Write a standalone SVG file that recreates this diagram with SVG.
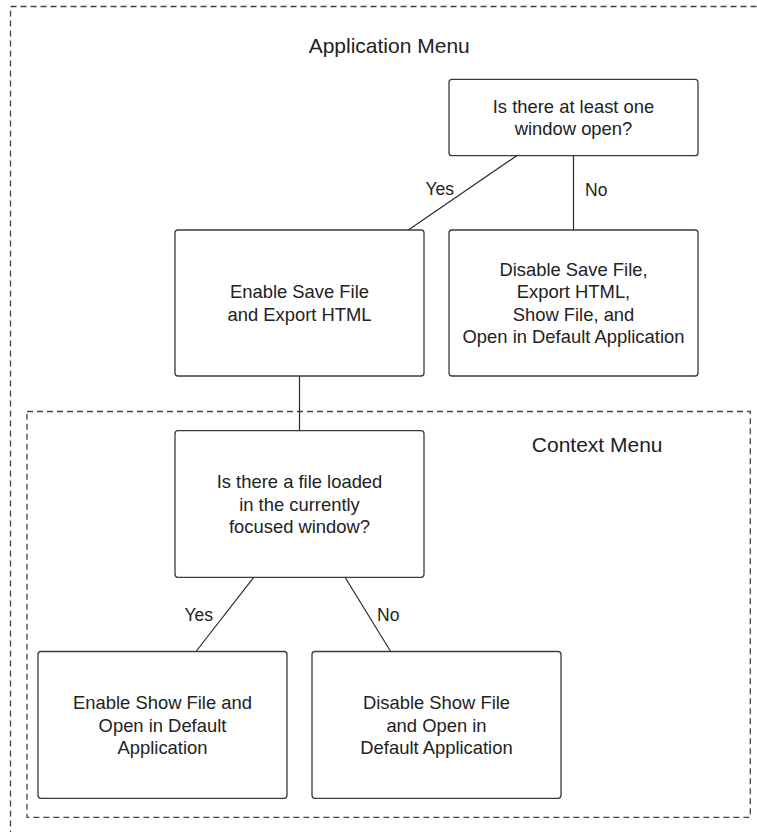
<svg xmlns="http://www.w3.org/2000/svg" width="757" height="832" viewBox="0 0 757 832">
<style>
.bg{fill:#ffffff}
.grp{fill:none;stroke:#444444;stroke-width:1.3;stroke-dasharray:6 4}
.box{fill:#ffffff;stroke:#3a3a3a;stroke-width:1.3}
.edge{fill:none;stroke:#2a2a2a;stroke-width:1.2}
.t{font-family:"Liberation Sans",Arial,sans-serif;font-size:18.4px;fill:#222222;text-anchor:middle}
.title{font-family:"Liberation Sans",Arial,sans-serif;font-size:21px;fill:#222222;text-anchor:middle}
.lbl{font-family:"Liberation Sans",Arial,sans-serif;font-size:17.5px;fill:#222222}
</style>
<rect class="bg" x="0" y="0" width="757" height="832"/>
<g id="app-menu-group">
<rect class="grp" x="10.5" y="6.5" width="780" height="860"/>
<text class="title" x="389.2" y="53">Application Menu</text>
</g>
<g id="context-menu-group">
<rect class="grp" x="27" y="411.5" width="723.3" height="405.8"/>
<text class="title" x="597.2" y="451.5">Context Menu</text>
</g>
<g id="connectors">
<line class="edge" x1="516.7" y1="155.7" x2="408.3" y2="230"/>
<line class="edge" x1="573.5" y1="155.7" x2="573.5" y2="230"/>
<line class="edge" x1="299.5" y1="376" x2="299.5" y2="430.7"/>
<line class="edge" x1="253.7" y1="577.3" x2="196" y2="651.5"/>
<line class="edge" x1="345" y1="577.3" x2="390.7" y2="651.5"/>
<text class="lbl" x="454" y="195" text-anchor="end">Yes</text>
<text class="lbl" x="585" y="196">No</text>
<text class="lbl" x="213" y="620.5" text-anchor="end">Yes</text>
<text class="lbl" x="377" y="620.5">No</text>
</g>
<g id="node-window-open">
<rect class="box" x="449" y="79.3" width="249" height="76.4" rx="3"/>
<text class="t" x="573.5" y="112.5">Is there at least one</text>
<text class="t" x="573.5" y="134.7">window open?</text>
</g>
<g id="node-enable-save">
<rect class="box" x="175" y="230" width="249" height="146" rx="3"/>
<text class="t" x="299.5" y="298.4">Enable Save File</text>
<text class="t" x="299.5" y="320.8">and Export HTML</text>
</g>
<g id="node-disable-save">
<rect class="box" x="449" y="230" width="249" height="146" rx="3"/>
<text class="t" x="573.5" y="276">Disable Save File,</text>
<text class="t" x="573.5" y="298.4">Export HTML,</text>
<text class="t" x="573.5" y="320.8">Show File, and</text>
<text class="t" x="573.5" y="343.2">Open in Default Application</text>
</g>
<g id="node-file-loaded">
<rect class="box" x="175" y="430.7" width="249" height="146.6" rx="3"/>
<text class="t" x="299.5" y="488.2">Is there a file loaded</text>
<text class="t" x="299.5" y="510.6">in the currently</text>
<text class="t" x="299.5" y="533">focused window?</text>
</g>
<g id="node-enable-show">
<rect class="box" x="38" y="651.5" width="249" height="146.8" rx="3"/>
<text class="t" x="162.5" y="709.1">Enable Show File and</text>
<text class="t" x="162.5" y="731.5">Open in Default</text>
<text class="t" x="162.5" y="753.9">Application</text>
</g>
<g id="node-disable-show">
<rect class="box" x="312" y="651.5" width="249" height="146.8" rx="3"/>
<text class="t" x="436.5" y="709.1">Disable Show File</text>
<text class="t" x="436.5" y="731.5">and Open in</text>
<text class="t" x="436.5" y="753.9">Default Application</text>
</g>
</svg>
